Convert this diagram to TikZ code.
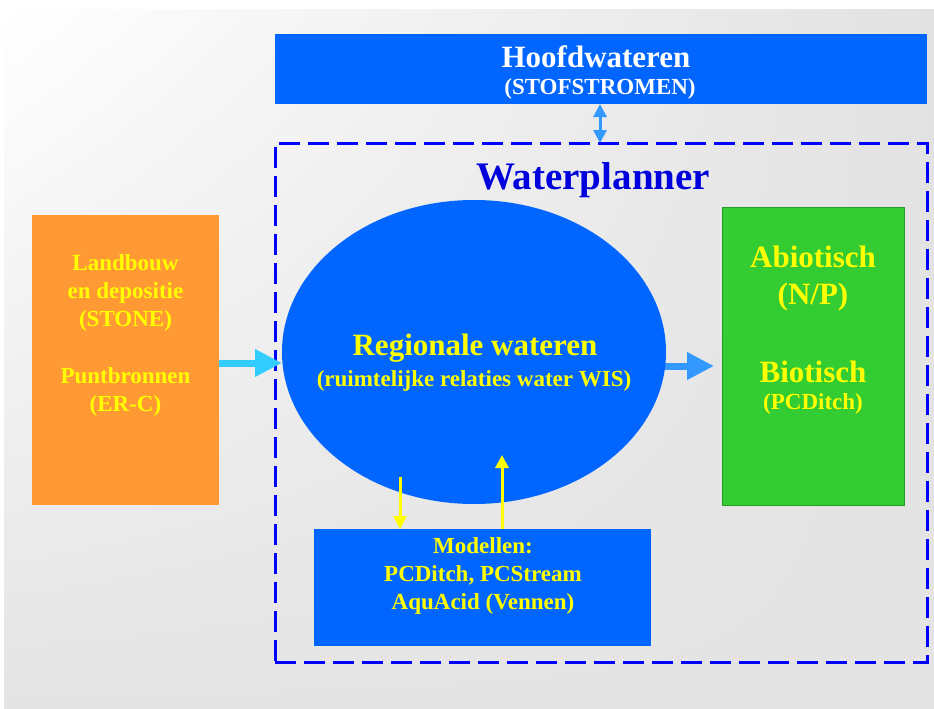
\documentclass[tikz,border=0pt]{standalone}
\usepackage{fontspec}
\setmainfont{Liberation Serif}
\usetikzlibrary{arrows.meta,shapes.geometric,shadings,positioning}
\definecolor{wpblue}{HTML}{0066FF}
\definecolor{wpdark}{HTML}{0000DD}
\definecolor{wpframe}{HTML}{0000FF}
\definecolor{wporange}{HTML}{FF9933}
\definecolor{wpgreen}{HTML}{33CC33}
\definecolor{wpyellow}{HTML}{FFFF00}
\definecolor{wpcyan}{HTML}{33CCFF}
\definecolor{wpsky}{HTML}{3399FF}
\definecolor{wpgray}{HTML}{E4E4E4}
\definecolor{wpgrayR}{HTML}{E2E2E2}
\tikzset{
  block/.style={rectangle, inner sep=0pt, outer sep=0pt},
  bigtxt/.style={font=\bfseries\fontsize{31}{37}\selectfont, text=wpyellow, align=center, inner sep=0pt},
  smalltxt/.style={font=\bfseries\fontsize{23}{28}\selectfont, text=wpyellow, align=center, inner sep=0pt},
  fatarrow/.style={line width=7pt, -{Triangle[width=26pt,length=27pt]}},
  thinarrow/.style={line width=3pt, -{Triangle[width=13pt,length=13pt]}},
  dblarrow/.style={line width=3pt, {Triangle[width=13pt,length=13pt]}-{Triangle[width=13pt,length=13pt]}}
}
\begin{document}
\begin{tikzpicture}[x=1pt,y=-1pt]
  \useasboundingbox (0,0) rectangle (934,709);
  \fill[white] (0,0) rectangle (934,709);
  \shade[upper left=white, upper right=wpgrayR, lower left=wpgray, lower right=wpgray] (4,10) rectangle (934,709);

  % boxes
  \node[block, fill=wpblue, minimum width=652pt, minimum height=70pt] (hw) at (601,69) {};
  \node[block, draw=wpframe, line width=3pt, dash pattern=on 21pt off 8pt, minimum width=652pt, minimum height=519pt] (frame) at (601,402.5) {};
  \node[block, fill=wporange, minimum width=187pt, minimum height=290pt] (src) at (125.5,360) {};
  \node[block, fill=wpgreen, draw=wpgreen!75!black, line width=0.6pt, minimum width=182pt, minimum height=298pt] (eco) at (813,356) {};
  \node[block, fill=wpblue, minimum width=337pt, minimum height=117pt] (mod) at (482.5,587.5) {};

  % arrows
  \coordinate (inL) at (282,363);
  \coordinate (outR) at (655,366);
  \draw[fatarrow, wpcyan] (src.east |- inL) -- (inL);
  \draw[fatarrow, wpsky] (outR) -- ([xshift=-8pt]eco.west |- outR);
  \node[ellipse, fill=wpblue, inner sep=0pt, minimum width=384pt, minimum height=304pt] (ell) at (474,352) {};

  \coordinate (dn) at (400,477);
  \coordinate (up) at (502,455);
  \coordinate (dbl) at (600,0);
  \draw[thinarrow, wpyellow] (dn) -- (dn |- mod.north);
  \draw[thinarrow, wpyellow] (up |- mod.north) -- (up);
  \draw[dblarrow, wpsky] (hw.south -| dbl) -- (dbl |- frame.north);

  % texts
  \node[bigtxt, text=white] (hwA) at (596,57) {Hoofdwateren};
  \node[smalltxt, text=white] (hwB) at (600,89) {(STOFSTROMEN)};
  \node[font=\bfseries\fontsize{39}{46}\selectfont, text=wpdark, inner sep=0pt] (title) at (593,180) {Waterplanner};
  \node[smalltxt] (srcA) at (125.5,293) {Landbouw\\en depositie\\(STONE)};
  \node[smalltxt] (srcB) at (125.5,391.5) {Puntbronnen\\(ER-C)};
  \node[bigtxt] (ellA) at (475,348) {Regionale wateren};
  \node[smalltxt] (ellB) at (474,381) {(ruimtelijke relaties water WIS)};
  \node[bigtxt] (ecoA) at (813,278.5) {Abiotisch\\(N/P)};
  \node[bigtxt] (ecoB) at (813,372) {Biotisch};
  \node[smalltxt] (ecoC) at (813,404) {(PCDitch)};
  \node[smalltxt] (modA) at (483,576) {Modellen:\\PCDitch, PCStream\\AquAcid (Vennen)};
\end{tikzpicture}
\end{document}
